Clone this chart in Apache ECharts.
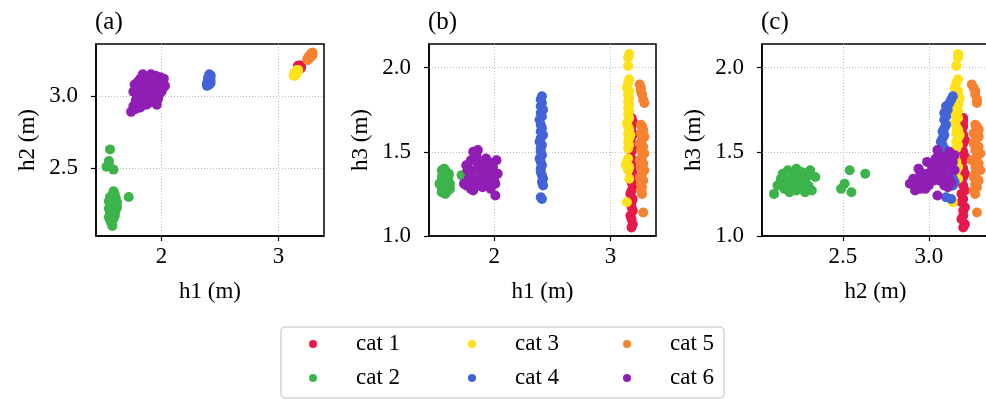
<!DOCTYPE html>
<html>
<head>
<meta charset="utf-8">
<script src="https://cdn.jsdelivr.net/npm/echarts@6/dist/echarts.min.js"></script>
<style>
  html, body { margin: 0; padding: 0; background: #fff; }
  #chart { width: 986px; height: 399px; }
</style>
</head>
<body>
<div id="chart"></div>
<script>
// each point: [h1, h2, h3] in metres
const cat1 = [
  [3.18, 3.20, 1.05], [3.19, 3.21, 1.07], [3.18, 3.19, 1.10], [3.17, 3.20, 1.12], [3.19, 3.20, 1.15],
  [3.18, 3.21, 1.17], [3.18, 3.19, 1.20], [3.19, 3.20, 1.22], [3.17, 3.19, 1.25], [3.18, 3.21, 1.27],
  [3.19, 3.20, 1.30], [3.18, 3.19, 1.32], [3.17, 3.20, 1.35], [3.19, 3.21, 1.37], [3.18, 3.20, 1.40],
  [3.18, 3.19, 1.42], [3.19, 3.20, 1.45], [3.17, 3.21, 1.47], [3.18, 3.20, 1.50], [3.19, 3.19, 1.52],
  [3.18, 3.20, 1.55], [3.17, 3.21, 1.57], [3.19, 3.20, 1.60], [3.18, 3.19, 1.62], [3.18, 3.20, 1.65],
  [3.19, 3.20, 1.68], [3.18, 3.20, 1.70]
];
const cat2 = [
  [1.58, 2.10, 1.25], [1.57, 2.12, 1.30], [1.56, 2.14, 1.34], [1.59, 2.15, 1.37], [1.55, 2.16, 1.28],
  [1.60, 2.17, 1.33], [1.57, 2.18, 1.39], [1.56, 2.19, 1.26], [1.58, 2.20, 1.31], [1.61, 2.21, 1.36],
  [1.55, 2.22, 1.29], [1.57, 2.23, 1.40], [1.59, 2.23, 1.27], [1.60, 2.24, 1.34], [1.56, 2.25, 1.32],
  [1.58, 2.26, 1.38], [1.62, 2.26, 1.28], [1.55, 2.27, 1.35], [1.59, 2.28, 1.26], [1.57, 2.28, 1.33],
  [1.61, 2.29, 1.37], [1.56, 2.30, 1.30], [1.58, 2.31, 1.39], [1.60, 2.32, 1.27], [1.59, 2.34, 1.35],
  [1.57, 2.21, 1.35], [1.58, 2.24, 1.29], [1.56, 2.27, 1.37], [1.60, 2.19, 1.32], [1.62, 2.23, 1.31],
  [1.72, 2.30, 1.36], [1.56, 2.63, 1.37], [1.55, 2.54, 1.39], [1.53, 2.51, 1.31], [1.59, 2.49, 1.28],
  [1.55, 2.55, 1.26]
];
const cat3 = [
  [3.16, 3.17, 2.08], [3.15, 3.17, 2.06], [3.15, 3.16, 2.01], [3.16, 3.17, 1.93], [3.15, 3.16, 1.91],
  [3.14, 3.15, 1.88], [3.16, 3.17, 1.86], [3.15, 3.16, 1.84], [3.16, 3.18, 1.82], [3.15, 3.16, 1.80],
  [3.16, 3.17, 1.78], [3.15, 3.16, 1.76], [3.16, 3.17, 1.74], [3.15, 3.15, 1.72], [3.16, 3.17, 1.70],
  [3.14, 3.15, 1.67], [3.15, 3.16, 1.65], [3.16, 3.17, 1.63], [3.15, 3.16, 1.61], [3.16, 3.17, 1.58],
  [3.15, 3.16, 1.56], [3.16, 3.17, 1.54], [3.15, 3.16, 1.52], [3.15, 3.15, 1.46], [3.14, 3.16, 1.44],
  [3.16, 3.17, 1.41], [3.15, 3.16, 1.39], [3.16, 3.17, 1.34], [3.14, 3.14, 1.20], [3.13, 3.14, 1.42],
  [3.17, 3.18, 1.60]
];
const cat4 = [
  [2.41, 3.14, 1.83], [2.40, 3.13, 1.81], [2.41, 3.12, 1.79], [2.40, 3.10, 1.77], [2.42, 3.11, 1.75],
  [2.40, 3.09, 1.73], [2.41, 3.10, 1.71], [2.39, 3.09, 1.69], [2.40, 3.10, 1.66], [2.41, 3.09, 1.64],
  [2.40, 3.08, 1.62], [2.42, 3.09, 1.60], [2.40, 3.08, 1.58], [2.39, 3.07, 1.56], [2.41, 3.08, 1.54],
  [2.40, 3.09, 1.52], [2.40, 3.08, 1.50], [2.41, 3.09, 1.48], [2.39, 3.08, 1.46], [2.40, 3.09, 1.44],
  [2.41, 3.10, 1.42], [2.40, 3.11, 1.40], [2.40, 3.12, 1.38], [2.41, 3.13, 1.36], [2.42, 3.14, 1.34],
  [2.41, 3.15, 1.32], [2.42, 3.14, 1.30], [2.40, 3.10, 1.23], [2.41, 3.13, 1.22]
];
const cat5 = [
  [3.25, 3.25, 1.90], [3.26, 3.26, 1.88], [3.26, 3.27, 1.86], [3.27, 3.27, 1.84], [3.28, 3.28, 1.81],
  [3.29, 3.28, 1.79], [3.26, 3.27, 1.66], [3.27, 3.28, 1.65], [3.28, 3.29, 1.63], [3.26, 3.26, 1.61],
  [3.29, 3.29, 1.59], [3.27, 3.27, 1.57], [3.25, 3.26, 1.55], [3.28, 3.29, 1.53], [3.26, 3.27, 1.51],
  [3.29, 3.30, 1.49], [3.27, 3.28, 1.47], [3.25, 3.25, 1.45], [3.28, 3.29, 1.43], [3.26, 3.27, 1.41],
  [3.29, 3.30, 1.39], [3.27, 3.27, 1.37], [3.25, 3.26, 1.35], [3.28, 3.29, 1.33], [3.26, 3.27, 1.31],
  [3.27, 3.28, 1.29], [3.26, 3.26, 1.27], [3.27, 3.27, 1.25], [3.28, 3.28, 1.14]
];
const cat6 = [
  [1.74, 2.89, 1.31], [2.01, 3.05, 1.24], [1.78, 3.05, 1.40], [1.80, 3.10, 1.45], [1.82, 3.12, 1.50],
  [1.85, 3.08, 1.47], [1.88, 3.13, 1.42], [1.90, 3.06, 1.38], [1.93, 3.11, 1.35], [1.95, 3.14, 1.44],
  [1.98, 3.09, 1.30], [2.02, 3.12, 1.45], [2.00, 3.03, 1.33], [1.97, 2.98, 1.28], [1.92, 2.96, 1.36],
  [1.87, 2.94, 1.32], [1.83, 2.97, 1.29], [1.79, 3.00, 1.35], [1.76, 3.03, 1.42], [1.81, 3.04, 1.38],
  [1.86, 3.02, 1.41], [1.89, 3.00, 1.30], [1.94, 3.02, 1.40], [1.96, 3.06, 1.33], [2.03, 3.07, 1.37],
  [1.84, 3.15, 1.48], [1.91, 3.15, 1.39], [1.78, 2.97, 1.33], [1.82, 2.92, 1.27], [1.88, 3.09, 1.34],
  [1.93, 3.04, 1.46], [1.99, 3.13, 1.41], [1.80, 3.07, 1.36], [1.85, 2.99, 1.44], [1.90, 3.11, 1.29],
  [1.95, 2.99, 1.37], [2.01, 3.10, 1.31], [1.77, 3.08, 1.39], [1.86, 3.05, 1.51], [1.92, 3.08, 1.43],
  [1.98, 3.01, 1.35], [1.83, 3.01, 1.34], [1.89, 2.95, 1.38], [1.94, 3.13, 1.32], [1.96, 2.94, 1.40],
  [1.76, 2.93, 1.30], [1.78, 2.91, 1.34], [1.80, 2.95, 1.28]
];

const categories = ['cat 1', 'cat 2', 'cat 3', 'cat 4', 'cat 5', 'cat 6'];
const colors = ['#e6194b', '#3cb44b', '#ffe119', '#4363d8', '#f58231', '#911eb4'];
const h1Ticks = [2, 3];
const h2Ticks = [2.5, 3.0];
const h3Ticks = [1.0, 1.5, 2.0];
const panelTitles = ['(a)', '(b)', '(c)'];

const FONT = 'Liberation Serif';
const catData = [cat1, cat2, cat3, cat4, cat5, cat6];

// [x index, y index] into each point for the three panels
const panels = [
  { xi: 0, yi: 1, left: 96, width: 228, xName: 'h1 (m)', yName: 'h2 (m)',
    xMin: 1.44, xMax: 3.39, yMin: 2.03, yMax: 3.36, xTicks: h1Ticks, yTicks: h2Ticks, xDec: 0 },
  { xi: 0, yi: 2, left: 429, width: 227, xName: 'h1 (m)', yName: 'h3 (m)',
    xMin: 1.44, xMax: 3.39, yMin: 1.0, yMax: 2.14, xTicks: h1Ticks, yTicks: h3Ticks, xDec: 0 },
  { xi: 1, yi: 2, left: 762, width: 227, xName: 'h2 (m)', yName: 'h3 (m)',
    xMin: 2.03, xMax: 3.35, yMin: 1.0, yMax: 2.14, xTicks: h2Ticks, yTicks: h3Ticks, xDec: 1 }
];

const axisCommon = {
  axisLine: { show: true, onZero: false, lineStyle: { color: '#000', width: 1.5 } },
  axisTick: { show: true, inside: false, length: 5, lineStyle: { color: '#000', width: 1.2 } },
  splitLine: { show: true, lineStyle: { color: '#b0b0b0', width: 0.8, type: [1, 2] } },
  nameLocation: 'middle',
  nameTextStyle: { fontFamily: FONT, fontSize: 23, color: '#000', lineHeight: 26 }
};

const grid = [], xAxis = [], yAxis = [], series = [], title = [];
panels.forEach((p, g) => {
  grid.push({ left: p.left, top: 44, width: p.width, height: 192, show: true,
    borderColor: '#000', borderWidth: 1.5, containLabel: false, outerBoundsMode: 'none' });
  title.push({ text: panelTitles[g], left: p.left - 1, top: 10, padding: 0,
    textStyle: { fontFamily: FONT, fontSize: 25, fontWeight: 'normal', color: '#000' } });
  xAxis.push(Object.assign({}, axisCommon, {
    gridIndex: g, type: 'value', min: p.xMin, max: p.xMax, splitNumber: g === 2 ? 3 : 2,
    name: p.xName, nameGap: 43,
    axisTick: Object.assign({}, axisCommon.axisTick, { customValues: p.xTicks }),
    axisLabel: { customValues: p.xTicks, margin: 8, fontFamily: FONT, fontSize: 23, color: '#000',
      lineHeight: 26, formatter: v => v.toFixed(p.xDec) }
  }));
  yAxis.push(Object.assign({}, axisCommon, {
    gridIndex: g, type: 'value', min: p.yMin, max: p.yMax, splitNumber: g === 0 ? 3 : 2,
    name: p.yName, nameGap: 55,
    axisTick: Object.assign({}, axisCommon.axisTick, { customValues: p.yTicks }),
    axisLabel: { customValues: p.yTicks, margin: 18, fontFamily: FONT, fontSize: 23, color: '#000',
      formatter: v => v.toFixed(1) }
  }));
  categories.forEach((c, k) => {
    series.push({
      name: c, type: 'scatter', xAxisIndex: g, yAxisIndex: g,
      symbol: 'circle', symbolSize: 10,
      itemStyle: { color: colors[k], opacity: 1 },
      emphasis: { disabled: true },
      data: catData[k].map(d => [d[p.xi], d[p.yi]])
    });
  });
});

const legendCols = [[0, 1], [2, 3], [4, 5]];
const legendLeft = [309, 468, 623];
const legend = legendCols.map((col, i) => ({
  orient: 'vertical', left: legendLeft[i], top: 332, padding: 0,
  itemWidth: 8, itemHeight: 8, itemGap: 10, icon: 'circle',
  textStyle: { fontFamily: FONT, fontSize: 23, color: '#000', lineHeight: 24, padding: [0, 0, 0, 34] },
  data: col.map(k => categories[k])
}));

const chart = echarts.init(document.getElementById('chart'), null, { renderer: 'canvas' });
chart.setOption({
  animation: false,
  backgroundColor: '#fff',
  textStyle: { fontFamily: FONT },
  title, grid, xAxis, yAxis, series, legend,
  graphic: [{
    type: 'rect', z: -1, silent: true,
    shape: { x: 281, y: 327, width: 443, height: 71, r: 4 },
    style: { fill: '#fff', stroke: '#d4d4d4', lineWidth: 1.5 }
  }]
});
</script>
</body>
</html>
